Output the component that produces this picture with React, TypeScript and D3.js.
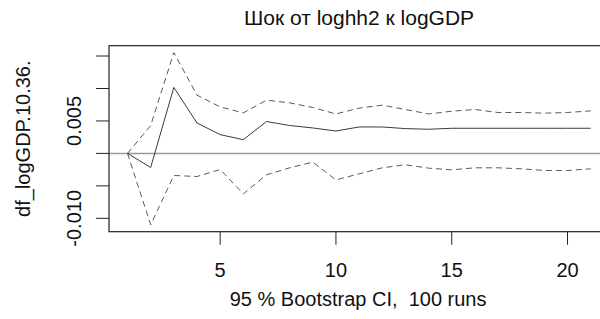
import React from 'react'
import { scaleLinear, line, min, max } from 'd3'

const steps = Array.from({ length: 21 }, (_, i) => i + 1)
const irf = [0, -0.00217, 0.01017, 0.00469, 0.00289, 0.00212, 0.00491, 0.0043, 0.00392, 0.00345, 0.00407, 0.00407, 0.00382, 0.00372, 0.00387, 0.00387, 0.00387, 0.00387, 0.00387, 0.00387, 0.00387]
const upper = [0, 0.0043, 0.01553, 0.00898, 0.00717, 0.00624, 0.0082, 0.00779, 0.00707, 0.00608, 0.00697, 0.00743, 0.00676, 0.00608, 0.0065, 0.00676, 0.0063, 0.0063, 0.0062, 0.0063, 0.00655]
const lower = [0, -0.011, -0.0034, -0.00356, -0.00248, -0.00624, -0.0033, -0.00222, -0.00134, -0.00408, -0.00315, -0.00222, -0.00175, -0.00227, -0.00253, -0.00222, -0.00222, -0.00237, -0.00263, -0.00263, -0.00237]
const xTicks = [5, 10, 15, 20]
const yTicks = [-0.01, -0.005, 0, 0.005, 0.01, 0.015]
const yLabels = [-0.01, 0.005]

const title = 'Шок от loghh2 к logGDP'
const xTitle = '95 % Bootstrap CI,  100 runs'
const yTitle = 'df_logGDP.10.36.'

const W = 600
const H = 319
const box = { left: 109, right: 609.2, top: 45.7, bottom: 231.7 }
const font = 'Liberation Sans, Arial, sans-serif'

export default function App() {
  const all = [...irf, ...upper, ...lower]
  const lo = min(all) as number
  const hi = max(all) as number
  const pad = (hi - lo) * 0.04
  const x = scaleLinear().domain([1 - 0.8, 21 + 0.8]).range([box.left, box.right])
  const y = scaleLinear().domain([lo - pad, hi + pad]).range([box.bottom, box.top])

  const path = (vals: number[]) =>
    line<number>()
      .x((_, i) => x(steps[i]))
      .y(d => y(d))(vals) as string

  return (
    <svg width={W} height={H} style={{ position: 'absolute', left: 0, top: 0, background: '#fff' }} fontFamily={font}>
      <rect x={0} y={0} width={W} height={H} fill="#fff" />
      <text x={(box.left + box.right) / 2} y={25} textAnchor="middle" fontSize={21} fill="#111">{title}</text>

      {/* zero line */}
      <line x1={box.left} x2={box.right} y1={y(0)} y2={y(0)} stroke="#9a9a9a" strokeWidth={1.5} />

      <path d={path(upper)} fill="none" stroke="#5a5a5a" strokeWidth={1} strokeDasharray="6,4" />
      <path d={path(lower)} fill="none" stroke="#5a5a5a" strokeWidth={1} strokeDasharray="6,4" />
      <path d={path(irf)} fill="none" stroke="#3a3a3a" strokeWidth={1} />

      <rect x={box.left} y={box.top} width={box.right - box.left} height={box.bottom - box.top} fill="none" stroke="#222" strokeWidth={1.2} />

      {/* x axis */}
      {xTicks.map(t => (
        <g key={t}>
          <line x1={x(t)} x2={x(t)} y1={box.bottom} y2={box.bottom + 13} stroke="#222" strokeWidth={1} />
          <text x={x(t)} y={277} textAnchor="middle" fontSize={20} fill="#111">{t}</text>
        </g>
      ))}
      <text x={(box.left + box.right) / 2 - 1} y={306} textAnchor="middle" fontSize={20} fill="#111" style={{ whiteSpace: 'pre' }}>{xTitle}</text>

      {/* y axis */}
      {yTicks.map(t => (
        <line key={t} x1={box.left - 13} x2={box.left} y1={y(t)} y2={y(t)} stroke="#222" strokeWidth={1} />
      ))}
      {yLabels.map(t => (
        <text key={t} transform={`translate(81,${y(t)}) rotate(-90)`} textAnchor="middle" fontSize={20} fill="#111">
          {t.toFixed(3)}
        </text>
      ))}
      <text transform={`translate(30,${(box.top + box.bottom) / 2}) rotate(-90)`} textAnchor="middle" fontSize={20} fill="#111">{yTitle}</text>
    </svg>
  )
}
